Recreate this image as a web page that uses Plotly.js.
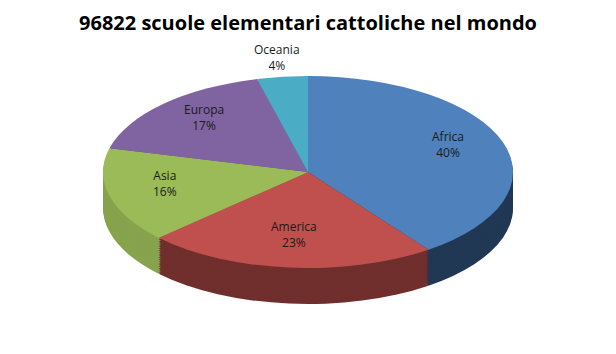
<!DOCTYPE html>
<html><head><meta charset="utf-8">
<script src="https://cdn.plot.ly/plotly-3.0.1.min.js"></script>
<style>html,body{margin:0;padding:0;background:#fff;overflow:hidden}</style>
</head><body><div id="chart" style="width:616px;height:354px"></div>
<script>
// ---- data ----
const regions = ['Africa', 'America', 'Asia', 'Europa', 'Oceania'];
const shares = [40, 23, 16, 17, 4];
const chartTitle = '96822 scuole elementari cattoliche nel mondo';

// ---- styles ----
const topColors = ['#4F81BD', '#C0504D', '#9BBB59', '#8064A2', '#4BACC6'];
const sideColors = ['#213855', '#702E2D', '#87A34D', '#65507F', '#3A8AA0'];
const labelPlacement = ['inside', 'inside', 'inside', 'inside', 'outside'];

const W = 616, H = 354;
const CX = 308, CY = 172, RX = 205, RY = 96, DEPTH = 36;
const R0 = 150;          // radius of the flat pie before tilting
const LAYERS = 20;       // stacked copies forming the 3D side

const dom = {x: [(CX - R0) / W, (CX + R0) / W], y: [1 - (CY + R0) / H, 1 - (CY - R0) / H]};

function pieTrace(colors) {
  return {
    type: 'pie', labels: regions, values: shares, sort: false,
    direction: 'clockwise', rotation: 0, domain: dom,
    textinfo: 'none', hoverinfo: 'skip', showlegend: false,
    marker: {colors: colors, line: {width: 0}}
  };
}

const traces = [];
for (let k = LAYERS; k >= 1; k--) traces.push(pieTrace(sideColors));
traces.push(pieTrace(topColors));

// labels placed on the tilted pie from each slice's mid angle
const total = shares.reduce((a, b) => a + b, 0);
const annotations = [];
let cum = 0;
shares.forEach((v, i) => {
  const th = 2 * Math.PI * (cum + v / 2) / total;
  cum += v;
  const f = labelPlacement[i] === 'inside' ? 0.72 : 1.2;
  const lcy = labelPlacement[i] === 'inside' ? CY - 6 : CY;
  const px = CX + f * RX * Math.sin(th);
  const py = lcy - f * RY * Math.cos(th);
  annotations.push({
    xref: 'paper', yref: 'paper', x: px / W, y: 1 - py / H,
    xanchor: 'center', yanchor: 'middle', showarrow: false,
    text: regions[i] + '<br>' + Math.round(v / total * 100) + '%',
    font: {family: 'Open Sans, sans-serif', size: 12, color: '#1a1a1a'}
  });
});

const layout = {
  width: W, height: H,
  margin: {l: 0, r: 0, t: 0, b: 0},
  paper_bgcolor: '#ffffff', plot_bgcolor: '#ffffff',
  title: {text: '<b>' + chartTitle + '</b>', x: 0.5, xanchor: 'center',
          y: 1 - 23 / H, yanchor: 'middle',
          font: {family: 'Open Sans, sans-serif', size: 20, color: '#000'}},
  annotations: annotations,
  showlegend: false
};

const gd = document.getElementById('chart');
Plotly.newPlot(gd, traces, layout, {staticPlot: true, displayModeBar: false}).then(() => {
  const cd0 = gd.calcdata[traces.length - 1][0];
  const cx = cd0.cx, cy = cd0.cy, r = cd0.r;
  const sx = RX / r, sy = RY / r;
  const layer = gd.querySelector('.pielayer');
  layer.setAttribute('transform',
    'translate(' + cx + ',' + cy + ') scale(' + sx + ',' + sy + ') translate(' + (-cx) + ',' + (-cy) + ')');
  const groups = layer.querySelectorAll('g.trace');
  groups.forEach((g, idx) => {
    const k = LAYERS - idx; // side copies first, top last (k = 0)
    const off = k > 0 ? (DEPTH * k / LAYERS) / sy : 0;
    g.setAttribute('transform', 'translate(0,' + off + ')');
  });
});
</script>
</body></html>
